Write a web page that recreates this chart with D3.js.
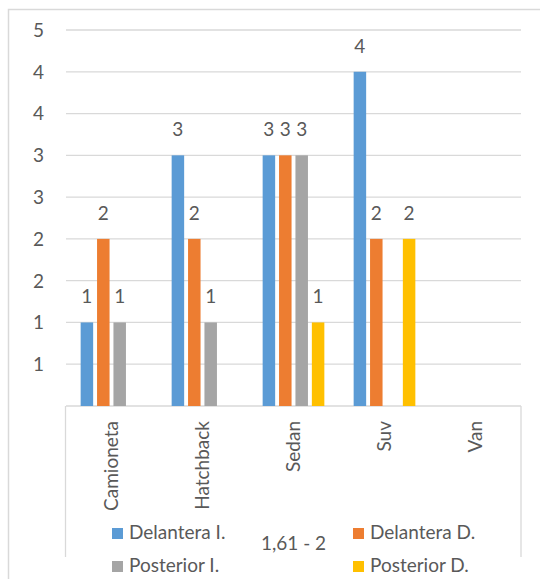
<!DOCTYPE html>
<html>
<head>
<meta charset="utf-8">
<script src="https://cdn.jsdelivr.net/npm/d3@7"></script>
<style>
  body { margin: 0; background: #fff; }
  text { font-family: Lato, "Open Sans", sans-serif; fill: #595959; }
</style>
</head>
<body>
<div id="chart"></div>
<script>
const categories = ["Camioneta", "Hatchback", "Sedan", "Suv", "Van"];
const seriesNames = ["Delantera I.", "Delantera D.", "Posterior I.", "Posterior D."];
const delanteraI = [1, 3, 3, 4, 0];
const delanteraD = [2, 2, 3, 2, 0];
const posteriorI = [1, 1, 3, 0, 0];
const posteriorD = [0, 0, 1, 2, 0];
const yTicks = [0.5, 1, 1.5, 2, 2.5, 3, 3.5, 4, 4.5];
const yTickLabels = ["1", "1", "2", "2", "3", "3", "4", "4", "5"];
const groupLabel = "1,61 - 2";
const colors = ["#5B9BD5", "#ED7D31", "#A5A5A5", "#FFC000"];

const width = 540, height = 579;
const plotLeft = 66, plotRight = 521, plotTop = 30, plotBottom = 406;

const values = [delanteraI, delanteraD, posteriorI, posteriorD];
const rows = categories.map((c, i) => ({
  cat: c,
  vals: seriesNames.map((s, j) => ({ s: s, v: values[j][i] }))
}));

const svg = d3.select("#chart").append("svg")
  .attr("width", width)
  .attr("height", height);

// outer chart border
svg.append("rect")
  .attr("x", 8.5).attr("y", 9.5)
  .attr("width", 700).attr("height", 700)
  .attr("fill", "none")
  .attr("stroke", "#D9D9D9")
  .attr("stroke-width", 1.5);

const x0 = d3.scaleBand().domain(categories).range([plotLeft, plotRight])
  .paddingInner(0.322).paddingOuter(0.161);
const x1 = d3.scaleBand().domain(seriesNames).range([0, x0.bandwidth()])
  .paddingInner(0.238);
const y = d3.scaleLinear().domain([0, 4.5]).range([plotBottom, plotTop]);
const color = d3.scaleOrdinal().domain(seriesNames).range(colors);

// gridlines
svg.append("g")
  .selectAll("line")
  .data(yTicks)
  .join("line")
  .attr("x1", plotLeft).attr("x2", plotRight)
  .attr("y1", d => y(d)).attr("y2", d => y(d))
  .attr("stroke", "#D9D9D9")
  .attr("stroke-width", 1.3);

// y labels
svg.append("g")
  .selectAll("text")
  .data(yTicks)
  .join("text")
  .attr("x", 44)
  .attr("y", d => y(d))
  .attr("dy", "0.36em")
  .attr("text-anchor", "end")
  .style("font-size", "19px")
  .text((d, i) => yTickLabels[i]);

// category axis box
const axisBox = svg.append("g")
  .attr("fill", "none")
  .attr("stroke", "#D9D9D9")
  .attr("stroke-width", 1.3);
axisBox.append("line").attr("x1", plotLeft).attr("x2", plotRight).attr("y1", y(0)).attr("y2", y(0));
axisBox.append("line").attr("x1", plotLeft - 0.5).attr("x2", plotLeft - 0.5).attr("y1", y(0)).attr("y2", 557);
axisBox.append("line").attr("x1", plotRight).attr("x2", plotRight).attr("y1", y(0)).attr("y2", 557);

// bars
const groups = svg.append("g")
  .selectAll("g")
  .data(rows)
  .join("g")
  .attr("transform", d => `translate(${x0(d.cat)},0)`);

groups.selectAll("rect")
  .data(d => d.vals.filter(e => e.v > 0))
  .join("rect")
  .attr("x", d => x1(d.s))
  .attr("y", d => y(d.v))
  .attr("width", x1.bandwidth())
  .attr("height", d => y(0) - y(d.v))
  .attr("fill", d => color(d.s));

// value labels
groups.selectAll("text")
  .data(d => d.vals.filter(e => e.v > 0))
  .join("text")
  .attr("x", d => x1(d.s) + x1.bandwidth() / 2)
  .attr("y", d => y(d.v) - 19)
  .attr("text-anchor", "middle")
  .style("font-size", "19px")
  .text(d => d.v);

// category labels
svg.append("g")
  .selectAll("text")
  .data(categories)
  .join("text")
  .attr("transform", d => `translate(${x0(d) + x0.bandwidth() / 2},421) rotate(-90)`)
  .attr("text-anchor", "end")
  .attr("dy", "0.35em")
  .style("font-size", "19px")
  .text(d => d);

// outer category label
svg.append("text")
  .attr("x", (plotLeft + plotRight) / 2)
  .attr("y", 550)
  .attr("text-anchor", "middle")
  .style("font-size", "19px")
  .text(groupLabel);

// legend
const legendPos = [[112, 528], [353, 528], [112, 561], [353, 561]];
const legend = svg.append("g")
  .selectAll("g")
  .data(seriesNames)
  .join("g")
  .attr("transform", (d, i) => `translate(${legendPos[i][0]},${legendPos[i][1]})`);
legend.append("rect")
  .attr("width", 11).attr("height", 11)
  .attr("fill", d => color(d));
legend.append("text")
  .attr("x", 17)
  .attr("y", 11)
  .style("font-size", "19px")
  .text(d => d);
</script>
</body>
</html>
